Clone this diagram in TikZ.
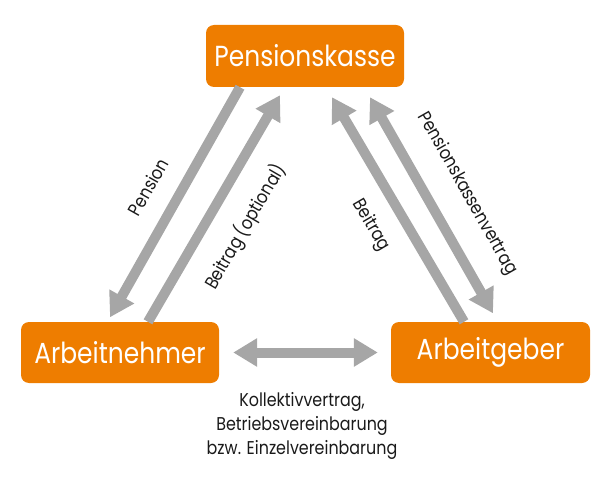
\documentclass[tikz,border=0pt]{standalone}
\usepackage{fontspec}
\setmainfont{Poppins}[FakeStretch=0.86]
\usetikzlibrary{arrows.meta,calc}
\definecolor{boxorange}{RGB}{238,125,0}
\definecolor{arrowgray}{RGB}{166,166,166}
\definecolor{labeltext}{RGB}{26,26,26}
\newcommand{\shaftwidth}{10pt}

\begin{document}
\begin{tikzpicture}[x=1pt,y=1pt,
    partner/.style={fill=boxorange, rounded corners=8pt, text=white, inner sep=0pt,
      font=\fontsize{29}{32}\selectfont},
    flow/.style={draw=arrowgray, line width=\shaftwidth,
      -{Triangle[width=27pt,length=24pt]}},
    flowboth/.style={flow, {Triangle[width=27pt,length=24pt]}-{Triangle[width=27pt,length=24pt]}},
    flowlabel/.style={text=labeltext, inner sep=0pt, font=\fontsize{18.5}{24}\selectfont}]
      \useasboundingbox (0,0) rectangle (613,480);

      % Beteiligte
      \node (pk) at (305,424) [partner, minimum width=198pt, minimum height=62pt] {Pensionskasse};
      \node (an) at (120,127.5) [partner, minimum width=198pt, minimum height=61pt] {Arbeitnehmer};
      \node (ag) at (490.5,127.5) [partner, minimum width=199pt, minimum height=61pt] {Arbeitgeber};

      % links
      \draw[flow] ($(pk.south)+(-65,0)$) to
        node[flowlabel, sloped, above=19pt] {Pension} ($(an.north)+(-10,4.5)$);
      \draw[flow] ($(an.north)+(28,0)$) to
        node[flowlabel, sloped, below=20pt] {Beitrag (optional)} ($(pk.south)+(-25,-8)$);

      % rechts
      \draw[flow] ($(ag.north)+(-26.5,0)$) to
        node[flowlabel, sloped, below=17pt] {Beitrag} ($(pk.south)+(27,-10)$);
      \draw[flowboth] ($(pk.south)+(65,-10)$) to
        node[flowlabel, sloped, above=22pt, pos=0.53] {Pensionskassenvertrag} ($(ag.north)+(2.5,8.5)$);

      % unten
      \draw[flowboth] ($(an.east)+(14,0)$) to ($(ag.west)+(-13,0)$);
      \node (vertrag) at (302,54) [flowlabel, align=center]
        {Kollektivvertrag,\\Betriebsvereinbarung\\bzw. Einzelvereinbarung};
    \end{tikzpicture}
\end{document}
